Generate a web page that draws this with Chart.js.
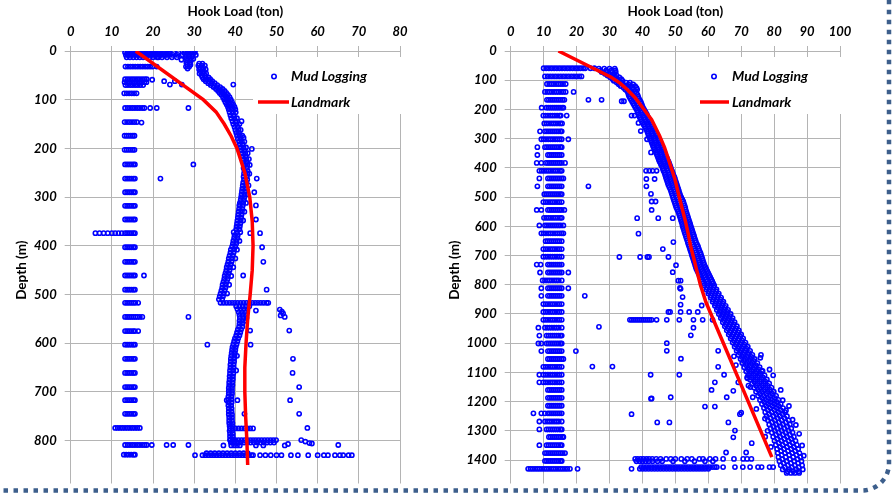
<!DOCTYPE html>
<html>
<head>
<meta charset="utf-8">
<title>Hook Load vs Depth</title>
<script src="https://cdn.jsdelivr.net/npm/chart.js@4/dist/chart.umd.min.js"></script>
<style>
  html, body { margin: 0; padding: 0; background: #fff; overflow: hidden; }
  #wrap { position: relative; width: 894px; height: 493px; }
  canvas { position: absolute; top: 0; }
  #c1 { left: 0; }
  #c2 { left: 440px; }
  #frame { position: absolute; left: 0; top: 0; }
</style>
</head>
<body>
<div id="wrap">
  <canvas id="c1" width="450" height="493"></canvas>
  <canvas id="c2" width="454" height="493"></canvas>
  <svg id="frame" width="894" height="493">
    <rect x="0" y="483.5" width="894" height="10" fill="#ffffff"/>
    <rect x="-40" y="-40" width="929" height="530.5" rx="27" ry="27" fill="none"
          stroke="#3d5f8c" stroke-width="4.5" stroke-dasharray="4.5 5.5"/>
  </svg>
</div>
<script>
// ---------------- Well A (left panel) ----------------
// in-slips readings: [depth m, hook loads ton...]
const leftSlipRows = [
  [32, 13.3,13.9,14.5,15.1,15.7,16.3,16.9,17.5,18.1,18.7,19.3,19.9,20.9],
  [58, 13.2,13.8,14.4,15.0,15.6,16.2,16.8,17.4,18.0,18.5],
  [64, 13.1,13.7,14.3,14.9,15.5,16.1,16.7,17.3,17.9,18.4],
  [70, 13.3,13.9,14.5,15.1,15.7,16.3,16.9,17.6],
  [87, 13.0,13.6,14.2,14.8,15.4,16.0],
  [117, 13.2,13.8,14.4,15.0,15.6,16.2,16.8,17.4,17.9],
  [146, 13.1,13.7,14.3,14.9,15.5,16.1],
  [174, 13.1,13.6,14.1,14.6,15.1,15.5],
  [203, 13.1,13.6,14.1,14.6,15.1,15.5],
  [233, 13.2,13.7,14.2,14.7,15.2,15.6],
  [262, 13.2,13.7,14.2,14.7,15.2,15.6],
  [290, 13.2,13.7,14.2,14.7,15.2,15.6],
  [318, 13.2,13.7,14.2,14.7,15.2,15.6],
  [346, 13.2,13.7,14.2,14.7,15.2,15.6],
  [374, 6.0,7.0,8.0,9.0,10.0,10.8,11.6,12.4,13.2,13.7,14.2,14.7,15.2,15.6],
  [403, 13.2,13.7,14.2,14.7,15.2,15.6],
  [433, 13.2,13.7,14.2,14.7,15.2,15.6],
  [461, 13.2,13.7,14.2,14.7,15.2,15.6],
  [490, 13.2,13.7,14.2,14.7,15.2,15.6],
  [517, 13.2,13.7,14.2,14.7,15.2,15.7,16.4],
  [546, 13.2,13.7,14.2,14.7,15.2,15.7,16.2,16.8,17.4],
  [575, 13.2,13.7,14.2,14.7,15.2,15.6,16.4],
  [603, 13.2,13.7,14.2,14.7,15.2,15.6],
  [632, 13.2,13.7,14.2,14.7,15.2,15.6],
  [661, 13.2,13.7,14.2,14.7,15.2,15.6],
  [690, 13.2,13.7,14.2,14.7,15.2,15.6],
  [717, 13.2,13.7,14.2,14.7,15.2,15.6],
  [745, 13.2,13.7,14.2,14.7,15.2,15.6],
  [774, 10.8,11.4,12.0,12.6,13.2,13.8,14.4,15.0,15.6,16.2,16.8],
  [809, 13.2,13.8,14.4,15.0,15.6,16.2,16.8,17.4,18.0,18.5],
  [829, 12.9,13.5,14.1,14.7,15.3,15.6]
];
// connection / tripping rows: [depth m, hook loads ton...]
const leftTripRows = [
  [3, 13.2,13.8,14.4,15.0,15.6,16.2,16.8,17.4,18.0,18.6,19.2,19.8,20.4,21.0,21.6,22.2,22.8,23.4,24.0,25.0,26.2],
  [8, 13.4,14.0,14.6,15.2,15.8,16.4,17.0,17.6,18.2,18.8,19.4,20.0,20.6,21.2,21.8,22.4,23.0,23.6,24.8,26.0,27.2],
  [13, 13.6,14.4,15.2,16.0,16.8,17.6,18.4,19.2,20.0,21.0,22.2,23.4,24.6,25.8],
  [517, 36.4,37.1,37.8,38.5,39.2,39.9,40.6,41.3,42.0,42.7,43.4,44.1,44.8,45.5,46.2,46.9,47.6,48.0],
  [775, 38.7,39.4,40.1,40.8,41.5,42.2,42.9,43.6,44.3],
  [799, 38.7,39.4,40.1,40.8,41.5,42.2,42.9,43.6,44.3,45.0,45.7,46.4,47.1,47.8,48.5,49.2,49.9],
  [804, 38.9,39.7,40.5,41.3,42.1,42.9,43.7,44.5,45.3,46.1,46.9,47.7,48.5,49.4],
  [810, 37.1,39.0,39.7,40.4,41.1,45.0,46.8,52.0],
  [826, 33.0,34.0,35.0,36.0,37.0,38.0,39.0,40.0,41.0,42.0,43.0],
  [830, 30.2,32.0,32.7,33.4,34.1,34.8,35.5,36.2,36.9,37.6,38.3,39.0,39.7,40.4,41.1,41.8,42.5,43.2,43.9,44.3,
        46.0,47.3,48.6,50.0,51.2,53.5,55.2,57.7,60.0,61.5,62.5,64.2,65.4,66.2,67.5,68.3]
];
// running-in trend: [depth m, hook loads ton...]
const leftTrendRows = [
  [0, 27.8,28.6,29.4,30.2], [4, 27.6,28.4,29.2,30.0], [8, 28.0,28.8,29.6,30.4],
  [12, 27.9,28.7,29.5], [16, 28.2,29.0,29.8], [20, 28.4,29.2], [24, 28.1,28.9],
  [28, 28.3,29.1], [32, 28.0,28.8], [36, 28.4],
  [26, 31.2,32.0], [30, 31.0,31.8,32.6], [34, 31.4,32.2], [38, 31.2,32.0,32.8],
  [42, 31.6,32.4], [46, 31.3,32.1,32.9], [50, 31.8,32.6], [54, 32.0,32.8,33.5],
  [58, 32.3,33.1,33.9], [62, 32.8,33.6,34.4], [66, 33.4,34.2,35.0], [70, 34.0,34.8,35.6],
  [74, 34.7,35.5,36.3], [78, 35.3,36.1,36.9], [82, 35.8,36.6,37.4], [86, 36.2,37.0,37.8],
  [90, 36.6,37.4,38.2], [95, 37.0,37.8,38.6], [100, 37.3,38.1,38.9], [105, 37.6,38.4,39.2],
  [110, 37.9,38.7,39.5], [115, 38.2,39.0,39.8], [120, 38.4,39.2,40.0], [126, 38.6,39.4,40.1],
  [132, 38.8,39.6], [138, 39.0,39.8,40.4], [144, 39.3,40.1], [150, 39.5,40.3,41.0],
  [156, 39.8,40.6], [162, 40.0,40.8,41.3], [168, 40.2,40.9], [174, 40.4,41.1,41.7],
  [180, 40.6,41.3], [186, 40.9,41.6,42.2], [192, 41.1,41.8], [198, 41.3,42.0,42.6],
  [204, 41.5,42.2], [210, 41.6,42.4,43.0], [216, 41.8,42.5], [222, 41.9,42.7,43.3],
  [228, 42.0,42.8], [234, 42.1,42.9,43.5], [240, 42.0,42.8], [246, 42.2,43.0],
  [252, 42.1,42.9,43.4], [258, 42.0,42.8], [264, 42.1,42.9], [270, 41.9,42.7],
  [276, 41.8,42.6,43.2], [282, 41.7,42.5], [288, 41.6,42.4], [294, 41.5,42.3,42.9],
  [300, 41.4,42.2], [306, 41.3,42.1], [312, 41.1,41.9,42.6], [318, 41.0,41.8],
  [324, 40.9,41.7], [330, 40.8,41.6,42.2], [336, 40.7,41.5], [342, 40.6,41.4],
  [348, 40.5,41.3,41.9], [354, 40.4,41.2], [360, 40.3,41.1], [366, 40.2,41.0],
  [372, 39.6,40.4,41.2], [378, 39.8,40.6], [384, 39.7,40.5], [390, 39.5,40.3,41.0],
  [396, 39.4,40.2], [402, 39.2,40.0], [408, 38.9,39.7,40.4], [414, 38.8,39.6],
  [420, 38.6,39.4], [426, 38.4,39.2,40.0], [432, 38.3,39.1], [438, 38.1,38.9],
  [444, 37.9,38.7,39.5], [450, 37.8,38.6], [456, 37.6,38.4], [462, 37.4,38.2,39.0],
  [468, 37.3,38.1], [474, 37.1,37.9], [480, 36.9,37.7,38.5], [486, 36.8,37.6],
  [492, 36.6,37.4], [498, 36.4,37.2,38.0], [504, 36.2,37.0], [510, 36.0,36.8],
  [524, 40.2,41.0,41.8,42.6,43.4], [530, 40.5,41.3,42.1,42.9], [536, 40.8,41.6,42.4],
  [542, 41.0,41.8,42.6], [548, 41.1,41.9,42.7], [554, 41.0,41.8,42.5], [560, 41.0,41.7],
  [566, 40.9,41.7], [572, 40.6,41.4], [578, 40.4,41.2], [584, 40.2,41.0], [590, 39.9,40.7],
  [596, 39.7,40.5], [602, 39.5,40.3], [608, 39.3,40.1], [614, 39.2,40.0], [620, 39.1,39.9],
  [626, 39.0,39.8,40.4], [632, 38.9,39.7], [638, 38.9,39.7], [644, 38.8,39.6], [650, 38.8,39.6],
  [656, 38.7,39.5,40.2], [662, 38.7,39.5], [668, 38.6,39.4], [674, 38.6,39.4], [680, 38.5,39.3],
  [686, 38.5,39.3], [692, 38.4,39.2], [698, 38.4,39.2], [704, 38.4,39.2], [710, 38.3,39.1],
  [716, 38.3,39.1], [722, 38.3,39.1], [728, 38.3,39.0], [734, 38.4,39.1], [740, 38.4,39.1],
  [746, 38.4,39.2], [752, 38.5,39.2], [758, 38.5,39.2], [764, 38.5,39.3], [770, 38.6,39.3],
  [780, 38.6,39.3], [786, 38.7,39.4], [792, 38.7,39.4], [798, 38.8,39.5]
];
// isolated readings: [hook load ton, depth m]
const leftScatter = [
  [19.8,59],[22.7,62],[24.1,69],[25.3,62],[27.0,69],[21.3,13],[23.9,5],[26.9,18],[39.5,69],
  [19.3,117],[20.9,117],[28.6,117],[17.2,147],[29.8,233],[21.8,262],[17.8,461],[28.6,546],[33.2,603],
  [41.5,144],[42.0,178],[44.0,201],[45.2,262],[44.6,290],[45.0,317],[41.0,316],[45.0,346],
  [43.6,374],[46.0,374],[46.5,403],[46.8,433],[41.9,461],[47.6,490],
  [45.0,533],[43.6,574],[43.7,603],[42.2,745],[37.9,717],[40.5,717],
  [50.8,531],[51.3,535],[51.6,539],[51.0,543],[52.0,546],[53.1,574],[54.0,632],[53.9,661],
  [55.5,690],[53.3,717],[55.5,745],[57.5,774],[56.0,799],[57.0,802],[58.0,805],[52.8,807],
  [58.6,806],[65.0,809],[19.7,809],[23.3,809],[24.9,809],[28.6,809]
];
// Landmark model
const leftModelDepth = [0, 100, 125, 150, 175, 200, 250, 300, 350, 400, 450, 500, 550, 600, 650, 700, 750, 800, 850];
const leftModelLoad  = [15.8, 32.2, 35.3, 37.3, 39.0, 40.4, 42.3, 43.5, 44.1, 44.3, 44.1, 43.6, 43.0, 42.6, 42.3, 42.3, 42.5, 42.8, 43.0];

// ---------------- Well B (right panel) ----------------
const rightSlipRows = [
  [59, 10.0,10.8,11.6,12.4,13.2,14.0,14.8,15.6,16.4,17.2,18.0,18.8,19.6,20.4,21.2,22.0,22.6,24.2,25.4],
  [87, 10.4,11.2,12.0,12.8,13.6,14.4,15.2,16.0,16.8,17.6,18.4,19.2,20.0,20.8,21.5],
  [113, 11.0,11.7,12.4,13.1,13.8,14.5,15.2,15.9,16.7],
  [140, 10.4,11.1,11.8,12.5,13.2,13.9,14.6,15.3,16.0,16.7,19.1],
  [167, 11.0,11.6,12.2,12.8,13.4,14.0,14.6,15.2,15.8,16.3],
  [194, 9.4,10.8,11.4,12.0,12.6,13.2,13.8,14.4,15.0,15.6,16.0],
  [221, 9.9,10.6,11.3,12.0,12.7,13.4,14.1,14.8,15.2,17.0],
  [248, 10.2,10.9,11.6,12.3,13.0,13.7,14.4,15.1,15.6],
  [275, 8.9,10.4,11.0,11.6,12.2,12.8,13.4,14.0,14.6,15.2,15.5],
  [302, 9.3,10.0,10.7,11.4,12.1,12.8,13.5,14.2,14.9,15.5,17.5],
  [329, 8.1,10.4,11.0,11.6,12.2,12.8,13.4,14.0,14.6,15.2,15.5],
  [356, 8.1,11.3,11.9,12.5,13.1,13.7,14.3,14.9,15.5],
  [383, 7.9,9.3,10.7,11.3,11.9,12.5,13.1,13.7,14.3,14.9,15.5,16.5],
  [410, 8.7,9.4,10.1,10.8,11.5,12.2,12.9,13.6,14.3,15.0,15.5],
  [436, 8.7,11.3,11.9,12.5,13.1,13.7,14.3,14.9,15.5,16.0],
  [463, 8.1,11.3,11.9,12.5,13.1,13.7,14.3,14.9,15.5,23.6],
  [490, 10.2,10.8,11.4,12.0,12.6,13.2,13.8,14.4,15.0,15.5],
  [517, 9.9,10.6,11.3,12.0,12.7,13.4,14.1,14.8,15.5],
  [544, 7.9,9.3,11.3,11.9,12.5,13.1,13.7,14.3,14.9,15.5,16.3],
  [571, 10.1,10.8,11.5,12.2,12.9,13.6,14.3,15.0,15.5],
  [597, 8.7,10.4,11.0,11.6,12.2,12.8,13.4,14.0,14.6,15.2,16.0],
  [624, 9.3,10.0,10.7,11.4,12.1,12.8,13.5,14.2,14.9,15.5,16.0],
  [651, 10.6,11.2,11.8,12.4,13.0,13.6,14.2,14.8,15.5],
  [678, 9.9,10.6,11.3,12.0,12.7,13.4,14.1,14.8,15.5],
  [704, 9.9,10.6,11.3,12.0,12.7,13.4,14.1,14.8,15.5],
  [731, 7.9,9.1,11.3,11.9,12.5,13.1,13.7,14.3,14.9,15.5],
  [758, 8.9,11.3,11.9,12.5,13.1,13.7,14.3,14.9,15.5,17.5],
  [785, 9.7,10.4,11.1,11.8,12.5,13.2,13.9,14.6,15.5],
  [812, 9.3,11.3,11.9,12.5,13.1,13.7,14.3,14.9,15.5,17.5],
  [838, 9.3,11.3,11.9,12.5,13.1,13.7,14.3,14.9,15.5,22.5],
  [866, 9.9,10.6,11.3,12.0,12.7,13.4,14.1,14.8,15.5],
  [893, 9.9,10.6,11.3,12.0,12.7,13.4,14.1,14.8,15.5],
  [920, 9.9,10.6,11.3,12.0,12.7,13.4,14.1,14.8,15.5],
  [947, 8.4,10.4,11.1,11.8,12.5,13.2,13.9,14.6,15.5],
  [974, 8.7,10.9,11.5,12.1,12.7,13.3,13.9,14.5,15.1,15.5],
  [1001, 8.4,9.3,10.9,11.5,12.1,12.7,13.3,13.9,14.5,15.1,15.5],
  [1027, 9.3,11.3,11.9,12.5,13.1,13.7,14.3,14.9,15.5,19.8],
  [1054, 11.3,11.9,12.5,13.1,13.7,14.3,14.9,15.5,16.0],
  [1081, 9.9,10.6,11.3,12.0,12.7,13.4,14.1,14.8,15.5],
  [1108, 8.7,9.9,10.6,11.3,12.0,12.7,13.4,14.1,14.8,15.5],
  [1134, 8.7,9.9,10.6,11.3,12.0,12.7,13.4,14.1,14.8,15.5],
  [1160, 11.3,11.9,12.5,13.1,13.7,14.3,14.9,15.5],
  [1187, 11.3,11.9,12.5,13.1,13.7,14.3,14.9,15.5],
  [1214, 11.3,11.9,12.5,13.1,13.7,14.3,14.9,15.5],
  [1240, 6.9,9.3,10.4,11.3,11.9,12.5,13.1,13.7,14.3,14.9,15.5],
  [1268, 8.7,10.4,11.1,11.8,12.5,13.2,13.9,14.6,15.5],
  [1295, 8.7,10.9,11.5,12.1,12.7,13.3,13.9,14.5,15.1,15.5],
  [1321, 11.6,12.2,12.8,13.4,14.0,14.6,15.2,15.8,16.0],
  [1349, 8.7,10.9,11.5,12.1,12.7,13.3,13.9,14.5,15.1,15.5],
  [1376, 10.4,11.0,11.6,12.2,12.8,13.4,14.0,14.6,15.2,15.8,16.5],
  [1403, 10.4,11.0,11.6,12.2,12.8,13.4,14.0,14.6,15.2,15.5],
  [1430, 5.3,6.0,6.7,7.4,8.1,8.8,9.5,10.2,10.9,11.6,12.3,13.0,13.7,14.4,15.1,15.8,16.5,17.2,18.0,20.3]
];
const rightTripRows = [
  [920, 36.2,36.8,37.4,38.0,38.6,39.2,39.8,40.4,41.0,41.6,42.2,42.8,44.3,47.4,51.2,55.5,58.3,61.3],
  [1396, 37.8,38.6,39.5,40.3,41.2,42.0,43.0,44.2,45.5,47.2,48.6,50.0,51.8,53.6,55.0,57.3,58.4,60.5,62.2,64.5,67.8,70.6,71.8,73.1],
  [1404, 38.2,39.1,40.0,41.0,41.9,43.1,44.6,46.0,49.3,52.9,55.8,59.0,61.4],
  [1424, 39.6,40.4,41.2,42.0,42.8,43.6,44.4,45.2,46.0,46.8,47.6,48.4,49.2,50.0,50.8,51.6,52.4,53.2,54.0,54.8,
         55.6,56.4,57.2,58.0,58.8,59.6,60.4,61.2,62.0,62.6,64.5,68.1,70.5,72.7,75.1,76.2,78.6,79.7],
  [1430, 36.7,39.2,40.1,41.0,41.9,42.8,43.7,44.6,45.5,46.4,47.3,48.2,49.1,50.0,50.9,51.8,52.7,53.6,54.5,55.4,
         56.3,57.2,58.1,59.0,60.0]
];
const rightTrendRows = [
  [60, 26.8,28.4,30.0,31.6], [66, 27.2,29.0,30.6,31.8], [72, 27.6,29.2,30.8,31.9], [78, 28.6,30.0,31.4],
  [84, 29.4,30.8,32.2], [90, 30.2,31.6,33.0], [96, 30.9,32.2,33.6], [102, 31.3,32.6,34.0],
  [108, 32.2,33.6,35.0,36.2], [114, 32.8,34.2,35.8,37.2], [120, 33.4,34.9,36.4,37.8], [126, 34.3,35.6,37.0,38.2],
  [132, 34.8,36.0,37.3,38.4], [138, 35.4,36.6,37.8], [144, 35.7,36.9,38.2], [150, 35.8,37.1,38.5],
  [156, 36.0,37.3,38.7], [162, 36.3,37.6,38.9], [168, 36.6,37.9,39.2], [174, 36.9,38.2,39.5],
  [180, 37.2,38.5,39.7], [186, 37.5,38.7,39.9], [192, 37.8,39.0,40.1], [198, 38.1,39.3,40.4],
  [204, 38.4,39.6,40.7], [210, 38.6,39.9,41.0], [216, 38.8,40.1,41.3], [222, 39.0,40.3,41.5],
  [228, 39.2,40.5,41.7], [234, 39.5,40.8,41.9], [240, 39.8,41.0,42.1], [246, 40.1,41.3,42.4],
  [252, 40.4,41.6,42.7], [258, 40.7,41.9,43.0], [264, 41.0,42.2,43.3], [270, 41.3,42.5,43.6],
  [276, 41.5,42.8,43.9], [282, 41.7,43.0,44.2], [288, 41.9,43.2,44.4], [294, 42.1,43.5,44.7],
  [300, 42.3,43.7,44.9], [306, 42.6,43.9,45.1], [312, 42.8,44.1,45.3], [318, 43.0,44.3,45.5],
  [324, 43.2,44.5,45.8], [330, 43.4,44.8,46.0], [336, 43.7,45.0,46.3], [342, 43.9,45.2,46.5],
  [348, 44.1,45.4,46.7], [354, 44.4,45.7,46.9], [360, 44.6,45.9,47.1], [366, 44.8,46.1,47.4],
  [372, 45.0,46.3,47.6], [378, 45.2,46.6,47.9], [384, 45.5,46.8,48.1], [390, 45.7,47.0,48.3],
  [396, 46.0,47.2,48.5], [403, 46.2,47.5,48.7], [410, 46.4,47.7,49.0], [417, 46.7,47.9,49.2],
  [424, 46.9,48.2,49.4], [431, 47.1,48.4,49.7], [438, 47.3,48.6,49.9], [445, 47.5,48.8,50.1],
  [452, 47.7,49.0,50.3], [459, 47.9,49.2,50.5], [466, 48.2,49.5,50.7], [473, 48.5,49.7,50.9],
  [480, 48.7,49.9,51.1], [487, 48.9,50.1,51.3], [494, 49.1,50.3,51.5], [501, 49.3,50.6,51.8],
  [508, 49.5,50.8,52.1], [515, 49.7,51.0,52.4], [522, 49.9,51.2,52.6], [529, 50.1,51.4,52.8],
  [536, 50.3,51.6,53.0], [543, 50.6,51.8,53.1], [550, 50.9,52.1,53.3], [557, 51.1,52.3,53.5],
  [564, 51.3,52.5,53.7], [571, 51.5,52.7,53.9], [578, 51.7,52.9,54.1], [585, 51.9,53.1,54.3],
  [592, 52.1,53.3,54.5], [599, 52.2,53.5,54.7], [606, 52.4,53.7,54.9], [613, 52.6,53.9,55.1],
  [620, 52.8,54.1,55.3], [627, 53.0,54.3,55.5], [634, 53.2,54.5,55.7], [641, 53.4,54.7,55.9],
  [648, 53.6,54.9,56.1], [655, 53.8,55.1,56.3], [662, 54.0,55.3,56.6], [669, 54.2,55.5,56.9],
  [676, 54.4,55.8,57.1], [683, 54.6,56.0,57.3], [690, 54.8,56.2,57.6], [697, 55.0,56.4,57.8],
  [704, 55.2,56.6,58.0], [711, 55.4,56.8,58.2], [718, 55.6,57.0,58.4], [725, 55.8,57.2,58.6],
  [732, 56.0,57.4,58.8], [739, 56.2,57.7,59.1], [746, 56.4,57.9,59.4], [753, 56.7,58.2,59.7],
  [760, 57.0,58.5,60.0], [767, 57.3,58.8,60.3], [774, 57.6,59.1,60.6], [781, 57.9,59.4,60.9],
  [788, 58.2,59.7,61.2], [795, 58.5,60.0,61.5],
  [802, 58.8,59.8,60.8,61.8], [809, 59.6,60.6,61.6], [816, 59.4,60.4,61.5,62.5], [823, 60.2,61.3,62.4],
  [830, 60.0,61.1,62.1,63.2], [837, 60.8,61.9,63.0], [844, 60.7,61.8,62.8,63.9], [851, 61.5,62.6,63.7],
  [858, 61.3,62.4,63.5,64.6], [865, 62.2,63.3,64.4], [872, 62.0,63.1,64.2,65.3], [879, 62.9,64.0,65.1],
  [886, 62.6,63.7,64.9,66.0], [893, 63.5,64.7,65.8], [900, 63.2,64.4,65.6,66.8], [907, 64.1,65.3,66.5],
  [914, 63.8,65.0,66.2,67.4], [921, 64.7,65.9,67.1], [928, 64.4,65.6,66.8,68.0], [935, 65.3,66.5,67.7],
  [942, 65.0,66.2,67.5,68.7], [949, 65.9,67.2,68.4], [956, 65.6,66.8,68.1,69.3], [963, 66.5,67.8,69.1],
  [970, 66.2,67.5,68.7,70.0], [977, 67.1,68.4,69.7], [984, 66.8,68.1,69.3,70.6], [991, 67.8,69.1,70.3],
  [998, 67.4,68.7,70.0,71.3], [1005, 68.4,69.7,71.0], [1012, 68.0,69.3,70.7,72.0], [1019, 69.0,70.3,71.6],
  [1026, 68.6,70.0,71.3,72.7], [1033, 69.6,71.0,72.3], [1040, 69.2,70.6,72.0,73.4], [1047, 70.2,71.7,73.1],
  [1054, 69.8,71.2,72.7,74.1], [1061, 70.8,72.3,73.8], [1068, 70.3,71.8,73.4,74.9], [1075, 71.4,72.9,74.4],
  [1082, 70.9,72.5,74.0,75.6], [1089, 72.0,73.6,75.2], [1096, 71.5,73.1,74.7,76.3], [1103, 72.6,74.3,75.9],
  [1110, 72.1,73.8,75.4,77.1], [1117, 73.2,74.9,76.6], [1124, 72.7,74.4,76.1,77.8], [1131, 73.9,75.6,77.3],
  [1138, 73.3,75.0,76.8,78.5], [1145, 74.5,76.3,78.0], [1152, 73.9,75.7,77.4,79.2], [1159, 75.1,76.9,78.7],
  [1166, 74.5,76.3,78.1,79.9], [1173, 75.7,77.6,79.4], [1180, 75.1,76.9,78.8,80.6], [1187, 76.3,78.2,80.1],
  [1194, 75.7,77.6,79.4,81.3], [1201, 77.0,78.9,80.8], [1208, 76.3,78.2,80.1,82.0], [1215, 77.6,79.5,81.4],
  [1222, 76.9,78.8,80.8,82.7], [1229, 78.1,80.1,82.0], [1236, 77.3,79.3,81.3,83.3], [1243, 78.5,80.6,82.6],
  [1250, 77.7,79.8,81.8,83.9], [1257, 78.9,81.1,83.2], [1264, 78.1,80.2,82.3,84.4], [1271, 79.4,81.5,83.6],
  [1278, 78.5,80.6,82.7,84.8], [1285, 79.8,81.9,84.0], [1292, 78.9,81.0,83.1,85.2], [1299, 80.2,82.3,84.4],
  [1306, 79.3,81.4,83.5,85.6], [1313, 80.6,82.7,84.8], [1320, 79.7,81.8,83.9,86.0], [1327, 81.0,83.1,85.2],
  [1334, 80.1,82.2,84.4,86.5], [1341, 81.4,83.5,85.6], [1348, 80.5,82.6,84.8,86.9], [1355, 81.8,83.9,86.0],
  [1362, 80.9,83.0,85.2,87.3], [1369, 82.1,84.2,86.4], [1376, 81.1,83.3,85.5,87.7], [1383, 82.3,84.6,86.8],
  [1390, 81.3,83.5,85.8,88.0], [1397, 82.5,84.8,87.1], [1404, 81.6,83.8,86.1,88.3], [1411, 82.9,85.1,87.3],
  [1418, 82.0,84.2,86.3,88.5], [1425, 83.3,85.4,87.5], [1432, 82.6,84.6,86.7,88.7], [1438, 84.1,85.8,87.5],
  [1444, 83.8,85.1,86.3,87.6]
];
const rightScatter = [
  [23.6,167],[27.6,167],[33.7,172],[34.4,172],[36.7,221],[37.6,221],[38.8,246],[39.5,274],[41.4,302],[42.6,347],
  [41.1,410],[42.1,410],[43.1,410],[44.3,410],[41.2,438],[43.7,438],[41.2,463],[42.6,489],[42.8,515],[44.0,515],
  [42.8,544],[38.4,572],[44.8,572],[49.2,572],[38.8,625],[49.4,654],[46.2,678],[33.0,705],[39.3,705],[41.5,705],
  [42.0,705],[47.9,705],[50.2,733],[49.2,757],[50.9,786],[51.6,786],[51.4,811],[51.6,814],[52.2,842],[51.6,868],
  [47.9,893],[48.4,893],[51.6,893],[54.2,893],[56.8,893],[58.0,871],[26.8,944],[55.5,947],[54.7,973],
  [47.4,1000],[47.4,1026],[51.7,1053],[24.8,1080],[30.9,1080],[42.5,1108],[51.2,1108],[63.0,1026],[63.0,1081],
  [64.8,1108],[62.0,1134],[61.0,1160],[42.8,1189],[42.6,1190],[48.6,1185],[59.0,1217],[62.0,1217],[65.6,1185],
  [69.1,1134],[69.6,1243],[36.7,1243],[44.5,1271],[48.2,1271],[66.1,1271],[68.1,1299],[67.6,1322],
  [72.2,1145],[71.8,1117],[65.4,1374],[71.5,1374],[73.2,1342],[70.0,1238],[67.6,1163],
  [72.8,1150],[73.5,1185],[74.6,1225],[82.0,1160],[82.6,1195],[83.6,1230],[84.5,1215],[71.9,1120],
  [78.6,1090],[79.7,1110],[76.0,1040],[67.8,1045],[68.4,1075],[75.8,1050],[76.5,1095],[85.6,1262],
  [86.6,1280],[87.6,1310],[88.5,1350],[89.0,1385],[78.0,1300],[77.3,1320],[79.0,1355],[77.2,1258]
];
const rightModelDepth = [0, 90, 110, 130, 160, 190, 235, 290, 330, 370, 440, 510, 580, 620, 665, 710, 760, 800, 860, 1390];
const rightModelLoad  = [14.5, 30.5, 33.2, 35.2, 37.8, 39.8, 42.8, 45.2, 46.7, 47.9, 49.9, 51.4, 53.0, 53.8, 54.6, 55.6, 56.7, 57.6, 59.3, 79.3];

// ---------------- helpers ----------------
function rowsToPoints(rows) {
  const pts = [];
  rows.forEach(r => { for (let i = 1; i < r.length; i++) pts.push({ x: r[i], y: r[0] }); });
  return pts;
}
function pairsToPoints(pairs) { return pairs.map(p => ({ x: p[0], y: p[1] })); }
function modelToPoints(depths, loads) { return depths.map((d, i) => ({ x: loads[i], y: d })); }

// white legend box drawn above the grid, entries drawn above the data
const legendBox = {
  id: 'legendBox',
  beforeDatasetsDraw(chart, args, o) {
    const ctx = chart.ctx;
    ctx.save();
    ctx.fillStyle = '#ffffff';
    ctx.fillRect(o.x, o.y, o.w, o.h);
    ctx.restore();
  },
  afterDatasetsDraw(chart, args, o) {
    const ctx = chart.ctx;
    const ds = chart.data.datasets;
    ctx.save();
    ctx.beginPath();
    ctx.arc(o.markerX, o.row1, 2.2, 0, Math.PI * 2);
    ctx.lineWidth = 1.6;
    ctx.strokeStyle = ds[0].pointBorderColor;
    ctx.stroke();
    ctx.beginPath();
    ctx.moveTo(o.lineX1, o.row2);
    ctx.lineTo(o.lineX2, o.row2);
    ctx.lineWidth = 3.5;
    ctx.strokeStyle = ds[1].borderColor;
    ctx.stroke();
    ctx.fillStyle = '#000';
    ctx.font = 'italic bold 14px Lato, "Open Sans", sans-serif';
    ctx.textBaseline = 'middle';
    ctx.textAlign = 'left';
    ctx.fillText(ds[0].label, o.textX, o.row1);
    ctx.fillText(ds[1].label, o.textX, o.row2);
    ctx.restore();
  }
};

Chart.defaults.font.family = 'Lato, "Open Sans", sans-serif';
Chart.defaults.color = '#000';

const GRID = '#b4b4b4';
const tickFont = { size: 13, weight: 'bold', style: 'italic' };
const titleFont = { size: 13.5, weight: 'bold' };

function makeChart(canvas, cfg) {
  return new Chart(canvas, {
    type: 'scatter',
    data: {
      datasets: [
        {
          label: 'Mud Logging', data: cfg.mud, order: 2,
          pointRadius: 2.1, pointHoverRadius: 2.1, pointBorderWidth: 1.6,
          pointBorderColor: '#0000ff', pointBackgroundColor: 'rgba(0,0,0,0)', borderColor: '#0000ff'
        },
        {
          label: 'Landmark', data: cfg.model, order: 1, showLine: true,
          borderColor: '#ff0000', borderWidth: 3.5, pointRadius: 0, pointHoverRadius: 0, tension: 0
        }
      ]
    },
    options: {
      responsive: false, animation: false, devicePixelRatio: 1,
      events: [],
      layout: { padding: { left: 0, top: 0, right: cfg.padRight, bottom: 0 } },
      plugins: { legend: { display: false }, tooltip: { enabled: false }, legendBox: cfg.legend },
      scales: {
        x: {
          type: 'linear', position: 'top', min: 0, max: cfg.xMax,
          ticks: { stepSize: 10, padding: 6, font: tickFont, color: '#000', maxRotation: 0, autoSkip: false },
          grid: { color: GRID, lineWidth: 1, tickLength: 5 },
          border: { color: GRID },
          title: { display: true, text: 'Hook Load (ton)', font: titleFont, color: '#000', padding: { top: 4, bottom: 0 } },
          afterFit: s => { s.height = 51; s.paddingLeft = 0; s.paddingRight = 0; }
        },
        y: {
          type: 'linear', position: 'left', reverse: true, min: 0, max: cfg.yMax,
          ticks: {
            stepSize: 100, padding: 8, font: tickFont, color: '#000', autoSkip: false,
            callback: v => (v > cfg.yLast ? '' : String(v))
          },
          grid: { color: GRID, lineWidth: 1, tickLength: 6 },
          border: { color: GRID },
          title: { display: true, text: 'Depth (m)', font: titleFont, color: '#000', padding: { top: cfg.yTitlePad, bottom: 0 } },
          afterFit: s => { s.width = cfg.yAxisWidth; s.paddingTop = 0; s.paddingBottom = 0; }
        }
      }
    },
    plugins: [legendBox]
  });
}

makeChart(document.getElementById('c1'), {
  mud: [].concat(rowsToPoints(leftSlipRows), rowsToPoints(leftTripRows), rowsToPoints(leftTrendRows), pairsToPoints(leftScatter)),
  model: modelToPoints(leftModelDepth, leftModelLoad),
  xMax: 80, yMax: 900, yLast: 800,
  padRight: 50, yAxisWidth: 70.7, yTitlePad: 13.9,
  legend: { x: 253, y: 57, w: 148, h: 57, markerX: 274, lineX1: 258, lineX2: 289, textX: 291, row1: 76.5, row2: 102 }
});

makeChart(document.getElementById('c2'), {
  mud: [].concat(rowsToPoints(rightSlipRows), rowsToPoints(rightTripRows), rowsToPoints(rightTrendRows), pairsToPoints(rightScatter)),
  model: modelToPoints(rightModelDepth, rightModelLoad),
  xMax: 100, yMax: 1500, yLast: 1400,
  padRight: 54, yAxisWidth: 70.7, yTitlePad: 6.4,
  legend: { x: 236, y: 57, w: 165, h: 57, markerX: 274, lineX1: 260, lineX2: 289, textX: 292, row1: 76.5, row2: 102 }
});
</script>
</body>
</html>
